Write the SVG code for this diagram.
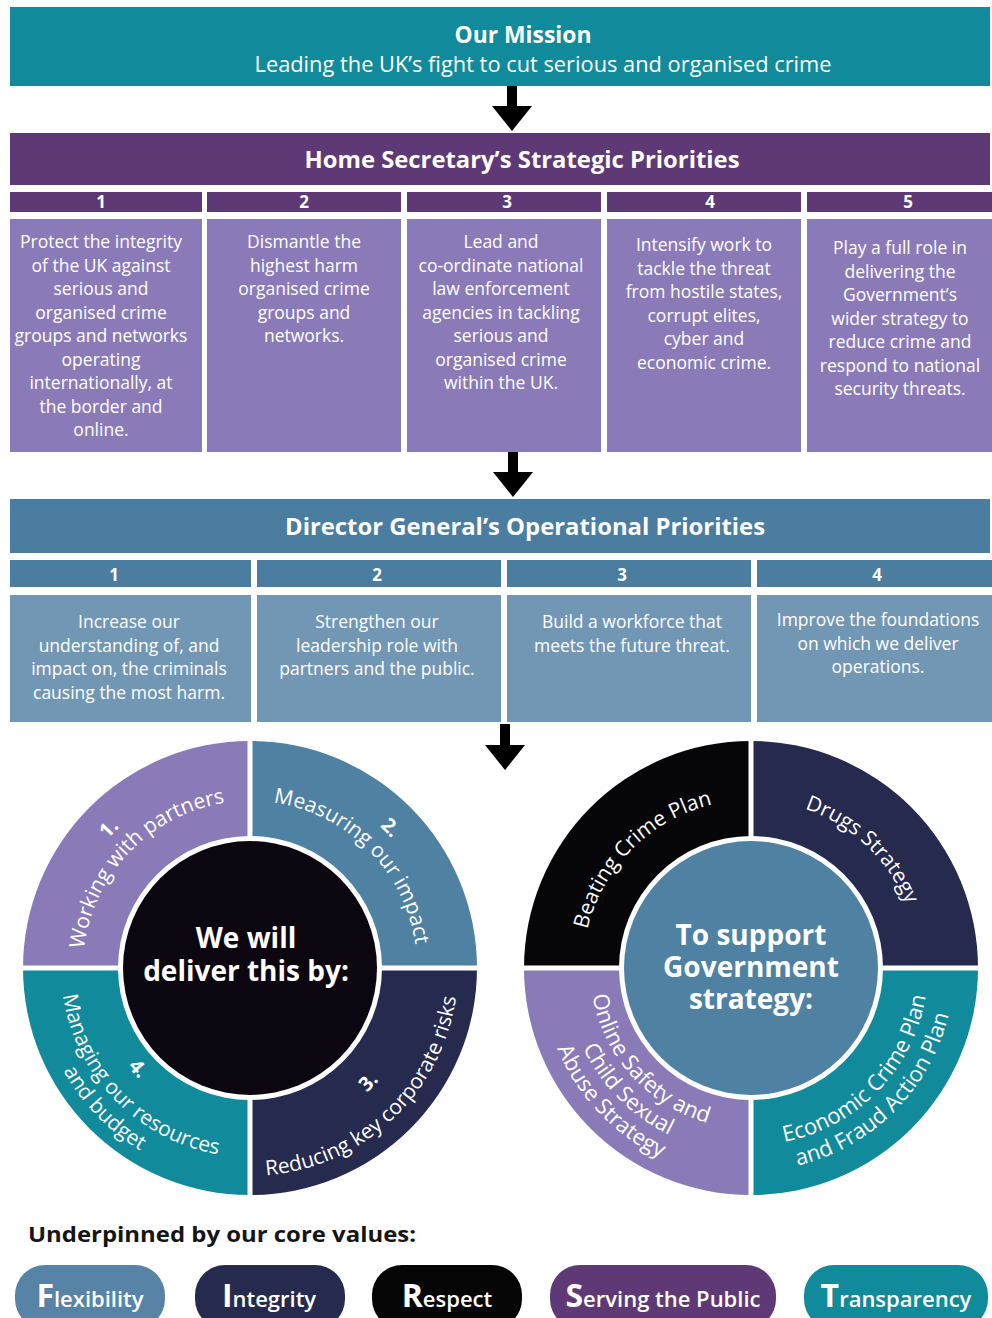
<svg xmlns="http://www.w3.org/2000/svg" width="992" height="1318" viewBox="0 0 992 1318">
<defs>
<style>
text { font-family: "Open Sans", "Noto Sans", "DejaVu Sans", sans-serif; fill: #ffffff; }
.c { text-anchor: middle; }
.b { font-weight: 700; }
.h { font-size: 24px; font-weight: 700; text-anchor: middle; }
.n { font-size: 17px; font-weight: 700; text-anchor: middle; }
.bx { font-size: 17.5px; text-anchor: middle; }
.arc { font-size: 21px; }
.arcb { font-size: 20px; font-weight: 700; }
.arc2 { font-size: 22px; }
.ctr { font-size: 28px; font-weight: 700; text-anchor: middle; }
.pill { font-size: 22px; font-weight: 600; text-anchor: middle; }
.init { font-size: 32px; font-weight: 700; }
.dark { fill: #151515; }
.teal { fill: #118a9b; }
.purpleD { fill: #5e3976; }
.purpleL { fill: #8a7bb8; }
.steel { fill: #4b7da0; }
.steelL { fill: #7297b5; }
.navy { fill: #262a4e; }
.blk { fill: #060608; }
.ring { fill: #ffffff; }
.gap { stroke: #ffffff; stroke-width: 5; fill: none; }
.shaft { stroke: #000000; stroke-width: 10; fill: none; }
</style>
<marker id="ah" viewBox="0 0 25 40" refX="1" refY="20" markerWidth="25" markerHeight="40" markerUnits="userSpaceOnUse" orient="auto">
<path d="M0,0 L25,20 L0,40 Z" fill="#000000"/>
</marker>
<!-- left circle arc paths (center 250,968) -->
<path id="Lt167" d="M83,968 A167,167 0 0 1 417,968"/>
<path id="Lt192" d="M58,968 A192,192 0 0 1 442,968"/>
<path id="Lb208" d="M42,968 A208,208 0 0 0 458,968"/>
<path id="Lb171" d="M79,968 A171,171 0 0 0 421,968"/>
<path id="Lb157" d="M93,968 A157,157 0 0 0 407,968"/>
<path id="Lb189" d="M61,968 A189,189 0 0 0 439,968"/>
<path id="Lb213" d="M37,968 A213,213 0 0 0 463,968"/>
<!-- right circle arc paths (center 751,968) -->
<path id="Rt168" d="M583,968 A168,168 0 0 1 919,968"/>
<path id="Rb161" d="M590,968 A161,161 0 0 0 912,968"/>
<path id="Rb186" d="M565,968 A186,186 0 0 0 937,968"/>
<path id="Rb210" d="M541,968 A210,210 0 0 0 961,968"/>
<path id="Rb177" d="M574,968 A177,177 0 0 0 928,968"/>
<path id="Rb203" d="M548,968 A203,203 0 0 0 954,968"/>
</defs>

<rect x="0" y="0" width="992" height="1318" fill="#ffffff"/>

<g id="mission">
<rect x="10" y="7" width="980" height="79" class="teal"/>
<text class="c b" x="523" y="43" font-size="23" textLength="137" lengthAdjust="spacingAndGlyphs">Our Mission</text>
<text class="c" x="543" y="72" font-size="21" textLength="577" lengthAdjust="spacingAndGlyphs">Leading the UK’s fight to cut serious and organised crime</text>
</g>

<g id="strategic-header">
<rect x="10" y="133" width="980" height="52" class="purpleD"/>
<text class="h" x="522" y="168" textLength="435" lengthAdjust="spacingAndGlyphs">Home Secretary’s Strategic Priorities</text>
</g>

<g id="sp1">
<rect x="10" y="192" width="192" height="20" class="purpleD"/>
<text class="n" x="101" y="208">1</text>
<rect x="10" y="219" width="192" height="233" class="purpleL"/>
<text class="bx" x="101" y="248">Protect the integrity</text>
<text class="bx" x="101" y="271.5">of the UK against</text>
<text class="bx" x="101" y="295">serious and</text>
<text class="bx" x="101" y="318.5">organised crime</text>
<text class="bx" x="101" y="342">groups and networks</text>
<text class="bx" x="101" y="365.5">operating</text>
<text class="bx" x="101" y="389">internationally, at</text>
<text class="bx" x="101" y="412.5">the border and</text>
<text class="bx" x="101" y="436">online.</text>
</g>

<g id="sp2">
<rect x="207" y="192" width="194" height="20" class="purpleD"/>
<text class="n" x="304" y="208">2</text>
<rect x="207" y="219" width="194" height="233" class="purpleL"/>
<text class="bx" x="304" y="248">Dismantle the</text>
<text class="bx" x="304" y="271.5">highest harm</text>
<text class="bx" x="304" y="295">organised crime</text>
<text class="bx" x="304" y="318.5">groups and</text>
<text class="bx" x="304" y="342">networks.</text>
</g>

<g id="sp3">
<rect x="407" y="192" width="194" height="20" class="purpleD"/>
<text class="n" x="507" y="208">3</text>
<rect x="407" y="219" width="194" height="233" class="purpleL"/>
<text class="bx" x="501" y="248">Lead and</text>
<text class="bx" x="501" y="271.5">co-ordinate national</text>
<text class="bx" x="501" y="295">law enforcement</text>
<text class="bx" x="501" y="318.5">agencies in tackling</text>
<text class="bx" x="501" y="342">serious and</text>
<text class="bx" x="501" y="365.5">organised crime</text>
<text class="bx" x="501" y="389">within the UK.</text>
</g>

<g id="sp4">
<rect x="607" y="192" width="194" height="20" class="purpleD"/>
<text class="n" x="710" y="208">4</text>
<rect x="607" y="219" width="194" height="233" class="purpleL"/>
<text class="bx" x="704" y="251">Intensify work to</text>
<text class="bx" x="704" y="274.5">tackle the threat</text>
<text class="bx" x="704" y="298">from hostile states,</text>
<text class="bx" x="704" y="321.5">corrupt elites,</text>
<text class="bx" x="704" y="345">cyber and</text>
<text class="bx" x="704" y="368.5">economic crime.</text>
</g>

<g id="sp5">
<rect x="807" y="192" width="185" height="20" class="purpleD"/>
<text class="n" x="908" y="208">5</text>
<rect x="807" y="219" width="185" height="233" class="purpleL"/>
<text class="bx" x="900" y="254">Play a full role in</text>
<text class="bx" x="900" y="277.5">delivering the</text>
<text class="bx" x="900" y="301">Government’s</text>
<text class="bx" x="900" y="324.5">wider strategy to</text>
<text class="bx" x="900" y="348">reduce crime and</text>
<text class="bx" x="900" y="371.5">respond to national</text>
<text class="bx" x="900" y="395">security threats.</text>
</g>

<g id="operational-header">
<rect x="10" y="499" width="980" height="54" class="steel"/>
<text class="h" x="525" y="535" textLength="480" lengthAdjust="spacingAndGlyphs">Director General’s Operational Priorities</text>
</g>

<g id="op1">
<rect x="10" y="560" width="241" height="27" class="steel"/>
<text class="n" x="114" y="581">1</text>
<rect x="10" y="595" width="241" height="127" class="steelL"/>
<text class="bx" x="129" y="628">Increase our</text>
<text class="bx" x="129" y="651.5">understanding of, and</text>
<text class="bx" x="129" y="675">impact on, the criminals</text>
<text class="bx" x="129" y="698.5">causing the most harm.</text>
</g>

<g id="op2">
<rect x="257" y="560" width="244" height="27" class="steel"/>
<text class="n" x="377" y="581">2</text>
<rect x="257" y="595" width="244" height="127" class="steelL"/>
<text class="bx" x="377" y="628">Strengthen our</text>
<text class="bx" x="377" y="651.5">leadership role with</text>
<text class="bx" x="377" y="675">partners and the public.</text>
</g>

<g id="op3">
<rect x="507" y="560" width="244" height="27" class="steel"/>
<text class="n" x="622" y="581">3</text>
<rect x="507" y="595" width="244" height="127" class="steelL"/>
<text class="bx" x="632" y="628">Build a workforce that</text>
<text class="bx" x="632" y="651.5">meets the future threat.</text>
</g>

<g id="op4">
<rect x="757" y="560" width="235" height="27" class="steel"/>
<text class="n" x="877" y="581">4</text>
<rect x="757" y="595" width="235" height="127" class="steelL"/>
<text class="bx" x="878" y="626">Improve the foundations</text>
<text class="bx" x="878" y="649.5">on which we deliver</text>
<text class="bx" x="878" y="673">operations.</text>
</g>

<g id="connectors">
<line x1="512" y1="86" x2="512" y2="107" class="shaft" marker-end="url(#ah)"/>
<line x1="513" y1="452" x2="513" y2="473" class="shaft" marker-end="url(#ah)"/>
<line x1="505" y1="724" x2="505" y2="746" class="shaft" marker-end="url(#ah)"/>
</g>

<g id="deliver-wheel">
<path d="M250,968 L23,968 A227,227 0 0 1 250,741 Z" class="purpleL"/>
<path d="M250,968 L250,741 A227,227 0 0 1 477,968 Z" fill="#4f81a3"/>
<path d="M250,968 L477,968 A227,227 0 0 1 250,1195 Z" class="navy"/>
<path d="M250,968 L250,1195 A227,227 0 0 1 23,968 Z" class="teal"/>
<path d="M250,738 V1198 M20,968 H480" class="gap"/>
<circle cx="250" cy="968" r="132" class="ring"/>
<circle cx="250" cy="968" r="127" fill="#0c0611"/>
<text class="arcb"><textPath href="#Lt192" startOffset="24.8%" text-anchor="middle">1.</textPath></text>
<text class="arc"><textPath href="#Lt167" startOffset="24.4%" text-anchor="middle">Working with partners</textPath></text>
<text class="arcb"><textPath href="#Lt192" startOffset="75%" text-anchor="middle">2.</textPath></text>
<text class="arc"><textPath href="#Lt167" startOffset="75%" text-anchor="middle">Measuring our impact</textPath></text>
<text class="arcb"><textPath href="#Lb171" startOffset="75.6%" text-anchor="middle">3.</textPath></text>
<text class="arc"><textPath href="#Lb208" startOffset="74%" text-anchor="middle">Reducing key corporate risks</textPath></text>
<text class="arcb"><textPath href="#Lb157" startOffset="23.3%" text-anchor="middle">4.</textPath></text>
<text class="arc"><textPath href="#Lb189" startOffset="24.6%" text-anchor="middle">Managing our resources</textPath></text>
<text class="arc"><textPath href="#Lb213" startOffset="24.4%" text-anchor="middle">and budget</textPath></text>
<text class="ctr" x="246" y="948">We will</text>
<text class="ctr" x="246" y="981">deliver this by:</text>
</g>

<g id="government-wheel">
<path d="M751,968 L524,968 A227,227 0 0 1 751,741 Z" class="blk"/>
<path d="M751,968 L751,741 A227,227 0 0 1 978,968 Z" class="navy"/>
<path d="M751,968 L978,968 A227,227 0 0 1 751,1195 Z" class="teal"/>
<path d="M751,968 L751,1195 A227,227 0 0 1 524,968 Z" class="purpleL"/>
<path d="M751,738 V1198 M521,968 H981" class="gap"/>
<circle cx="751" cy="968" r="132" class="ring"/>
<circle cx="751" cy="968" r="127" fill="#4f81a3"/>
<text class="arc"><textPath href="#Rt168" startOffset="25%" text-anchor="middle">Beating Crime Plan</textPath></text>
<text class="arc"><textPath href="#Rt168" startOffset="74%" text-anchor="middle">Drugs Strategy</textPath></text>
<text class="arc2"><textPath href="#Rb161" startOffset="23.4%" text-anchor="middle">Online Safety and</textPath></text>
<text class="arc2"><textPath href="#Rb186" startOffset="24.8%" text-anchor="middle">Child Sexual</textPath></text>
<text class="arc2"><textPath href="#Rb210" startOffset="24.2%" text-anchor="middle">Abuse Strategy</textPath></text>
<text class="arc2"><textPath href="#Rb177" startOffset="75.5%" text-anchor="middle">Economic Crime Plan</textPath></text>
<text class="arc2"><textPath href="#Rb203" startOffset="75%" text-anchor="middle">and Fraud Action Plan</textPath></text>
<text class="ctr" x="751" y="945">To support</text>
<text class="ctr" x="751" y="977">Government</text>
<text class="ctr" x="751" y="1009">strategy:</text>
</g>

<g id="values">
<text class="b dark" x="28" y="1242" font-size="22" textLength="388" lengthAdjust="spacingAndGlyphs">Underpinned by our core values:</text>
</g>

<g id="value-flexibility">
<rect x="15" y="1265" width="150" height="64" rx="30" fill="#5784a6"/>
<text class="pill" x="90" y="1307"><tspan class="init">F</tspan>lexibility</text>
</g>
<g id="value-integrity">
<rect x="195" y="1265" width="150" height="64" rx="30" class="navy"/>
<text class="pill" x="269" y="1307"><tspan class="init">I</tspan>ntegrity</text>
</g>
<g id="value-respect">
<rect x="372" y="1265" width="150" height="64" rx="30" fill="#050505"/>
<text class="pill" x="447" y="1307"><tspan class="init">R</tspan>espect</text>
</g>
<g id="value-serving">
<rect x="550" y="1265" width="226" height="64" rx="30" class="purpleD"/>
<text class="pill" x="663" y="1307"><tspan class="init">S</tspan>erving the Public</text>
</g>
<g id="value-transparency">
<rect x="804" y="1265" width="184" height="64" rx="30" class="teal"/>
<text class="pill" x="896" y="1307"><tspan class="init">T</tspan>ransparency</text>
</g>
</svg>
